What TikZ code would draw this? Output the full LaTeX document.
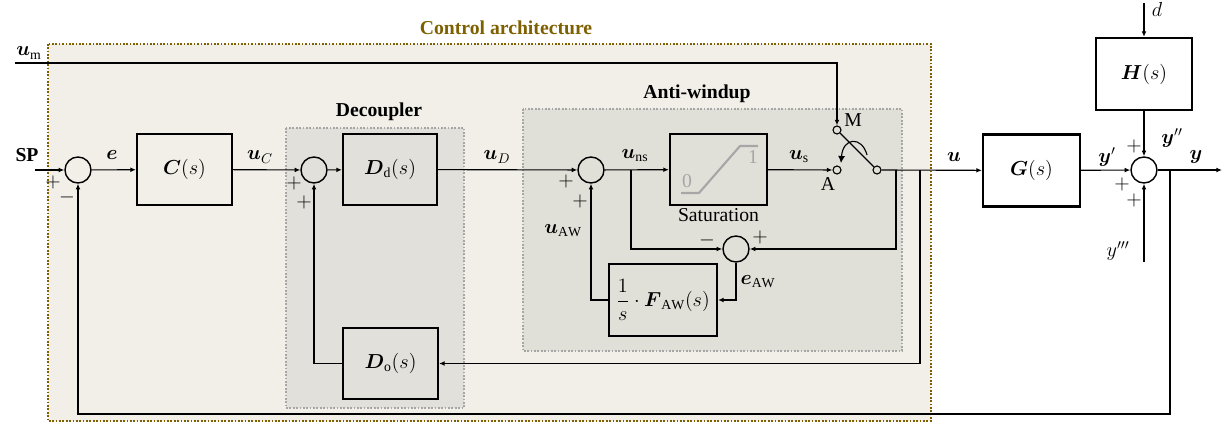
\documentclass[tikz,border=0pt]{standalone}
\usepackage{amsmath,amssymb}
\usepackage{fontspec}
\setmainfont{Liberation Serif}
\usepackage{tikz}
\usetikzlibrary{arrows.meta,positioning}
\definecolor{archbrown}{RGB}{127,96,0}
\definecolor{archfill}{RGB}{241,239,232}
\definecolor{decfill}{RGB}{226,224,219}
\definecolor{awfill}{RGB}{225,224,216}
\definecolor{grpline}{RGB}{166,166,166}
\newcommand{\bv}[1]{\boldsymbol{#1}}

\begin{document}
\begin{tikzpicture}[x=0.025cm,y=-0.025cm,font=\fontsize{14}{16}\selectfont,>={Latex[length=4pt,width=3.4pt]},
 blk/.style={draw,line width=1.5pt,minimum width=2.4cm,minimum height=1.775cm,inner sep=0},
 sumc/.style={circle,draw,line width=1pt,minimum size=0.65cm,inner sep=0},
 contact/.style={circle,draw,line width=0.8pt,minimum size=0.2cm,inner sep=0,fill=awfill},
 sig/.style={->,line width=0.8pt},
 sgn/.style={inner sep=0,font=\fontsize{15}{16}\selectfont},
 grp/.style={line width=1.2pt,dash pattern=on 1.2pt off 1.2pt},
 ttl/.style={font=\fontsize{14}{16}\selectfont\bfseries}]
 \useasboundingbox (0,0) rectangle (1224,425);
 \draw[grp,archbrown,fill=archfill] (48,44) rectangle (931,421);
 \draw[grp,grpline,fill=decfill] (286,128) rectangle (464,408);
 \draw[grp,grpline,fill=awfill] (523,109) rectangle (902,351);
 \node[ttl,text=archbrown] (tarch) at (506,28) {Control architecture};
 \node[ttl] (tdec) at (379,112) {Decoupler};
 \node[ttl] (taw) at (697,94) {Anti-windup};

 \node[sumc] (s1) at (78,170) {};
 \node[blk,minimum width=2.375cm] (C) at (184.5,169.5) {$\bv{C}(s)$};
 \node[sumc] (s2) at (314,170) {};
 \node[blk,minimum width=2.35cm] (Dd) at (390,169.5) {$\bv{D}_{\mathrm{d}}(s)$};
 \node[blk,minimum width=2.375cm] (Do) at (390.5,363.5) {$\bv{D}_{\mathrm{o}}(s)$};
 \node[sumc] (s3) at (591,170) {};
 \node[blk,minimum width=2.425cm] (sat) at (718.5,169.5) {};
 \node[below=1pt of sat,inner sep=0.5pt] (satl) {Saturation};
 \node[sumc] (s4) at (736,249) {};
 \node[blk,minimum width=2.7cm,minimum height=1.8cm] (faw) at (663,300) {$\dfrac{1}{s}\cdot\bv{F}_{\mathrm{AW}}(s)$};
 \node[contact] (cM) at (837,130) {};
 \node[contact] (cA) at (837,170) {};
 \node[contact] (cO) at (877,170) {};
 \node (lM) at (853,120) {M};
 \node (lA) at (828,184) {A};
 \node[blk,minimum width=2.425cm,minimum height=1.8cm] (G) at (1031.5,170.5) {$\bv{G}(s)$};
 \node[sumc] (s5) at (1144,170) {};
 \node[blk,minimum height=1.8cm] (H) at (1144,74) {$\bv{H}(s)$};

 \draw[line width=1.5pt,grpline] (681,193) -- (699,193) -- (740,146) -- (758,146);
 \node[text=grpline] (z0) at (687,181) {0};
 \node[text=grpline] (z1) at (753,157) {1};

 \coordinate (spin) at (35,170);
 \coordinate (umin) at (15,63);
 \coordinate (din) at (1144,3);
 \coordinate (y3in) at (1144,262);
 \coordinate (yout) at (1222,170);
 \coordinate (jns) at (631,170);
 \coordinate (jaw) at (896,170);
 \coordinate (jdo) at (920,170);
 \coordinate (jy) at (1170,170);
 \coordinate (fb) at (1170,414);

 \draw[sig] (spin) -- (s1);
 \draw[sig] (s1) -- (C);
 \draw[sig] (C) -- (s2);
 \draw[sig] (s2) -- (Dd);
 \draw[sig] (Dd) -- (s3);
 \draw[sig] (s3) -- (sat);
 \draw[sig] (sat) -- (cA);
 \draw[sig] (umin) -| (cM);
 \draw[line width=0.8pt] (cM) -- (cO);
 \draw[->,line width=0.8pt,>={Latex[length=5pt,width=5pt]}] (867,155) .. controls (862,136) and (843,137) .. (841,163);
 \draw[sig] (cO) -- (G);
 \draw[sig] (jns) |- (s4);
 \draw[sig] (jaw) |- (s4);
 \draw[sig] (s4) |- (faw);
 \draw[sig] (faw) -| (s3);
 \draw[sig] (jdo) |- (Do);
 \draw[sig] (Do) -| (s2);
 \draw[sig] (G) -- (s5);
 \draw[sig] (din) -- (H);
 \draw[sig] (H) -- (s5);
 \draw[sig] (y3in) -- (s5);
 \draw[sig] (s5) -- (yout);
 \draw[sig] (jy) -- (fb) -| (s1);

 \node (lSP) at (27,155) {\textbf{SP}};
 \node (lum) at (29,53) {$\bv{u}_{\mathrm{m}}$};
 \node (le) at (112,155) {$\bv{e}$};
 \node (luC) at (260,157) {$\bv{u}_C$};
 \node (luD) at (497,157) {$\bv{u}_D$};
 \node (luns) at (635,156) {$\bv{u}_{\mathrm{ns}}$};
 \node (lus) at (799,157) {$\bv{u}_{\mathrm{s}}$};
 \node (luaw) at (563,231) {$\bv{u}_{\mathrm{AW}}$};
 \node (leaw) at (758,282) {$\bv{e}_{\mathrm{AW}}$};
 \node (lu) at (954,157) {$\bv{u}$};
 \node (ly1) at (1107,157) {$\bv{y}'$};
 \node (ly2) at (1172,138) {$\bv{y}''$};
 \node (ly) at (1196,157) {$\bv{y}$};
 \node (ld) at (1157,9) {$d$};
 \node (ly3) at (1118,251) {$y'''$};

 \node[sgn] at (53,182) {$+$};
 \node[sgn] at (67,197) {$-$};
 \node[sgn] at (294,183) {$+$};
 \node[sgn] at (304,202) {$+$};
 \node[sgn] at (566,181) {$+$};
 \node[sgn] at (580,201) {$+$};
 \node[sgn] at (707,240) {$-$};
 \node[sgn] at (760,237) {$+$};
 \node[sgn] at (1134,146) {$+$};
 \node[sgn] at (1122,184) {$+$};
 \node[sgn] at (1134,200) {$+$};
\end{tikzpicture}
\end{document}
